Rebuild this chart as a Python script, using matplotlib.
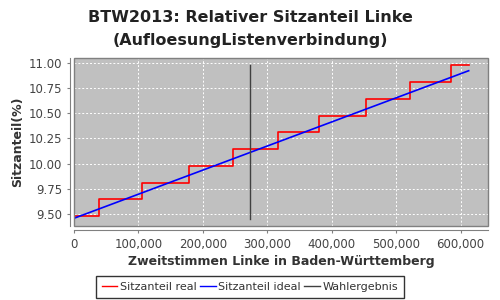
import matplotlib
matplotlib.use("Agg")
import matplotlib.pyplot as plt
from matplotlib.patches import Rectangle
from matplotlib.ticker import FuncFormatter

# Data
step_x = [0, 39260, 105040, 178900, 247200, 317000, 380600, 453500, 521300, 584900, 612400]
seat_levels = [9.474, 9.644, 9.803, 9.973, 10.142, 10.311, 10.471, 10.641, 10.810, 10.980]
ideal_x = [0, 612400]
ideal_y = [9.454, 10.926]
wahl_x = [273550, 273550]
wahl_y = [9.447, 10.983]
y_ticks = [9.50, 9.75, 10.00, 10.25, 10.50, 10.75, 11.00]
x_ticks = [0, 100000, 200000, 300000, 400000, 500000, 600000]

title = "BTW2013: Relativer Sitzanteil Linke\n(AufloesungListenverbindung)"
xlabel = "Zweitstimmen Linke in Baden-Württemberg"
ylabel = "Sitzanteil(%)"
labels = ["Sitzanteil real", "Sitzanteil ideal", "Wahlergebnis"]

plt.rcParams['font.family'] = ['DejaVu Sans']
fig = plt.figure(figsize=(5, 3), dpi=100)
ax = fig.add_axes([74/500, 1-226/300, (488-74)/500, (226-58)/300])
ax.set_facecolor('#c0c0c0')

ax.plot(step_x, seat_levels + [seat_levels[-1]], drawstyle='steps-post', color='red', lw=1.2, label=labels[0])
ax.plot(ideal_x, ideal_y, color='blue', lw=1.2, label=labels[1])
ax.plot(wahl_x, wahl_y, color='#404040', lw=1.0, label=labels[2])

ax.set_xlim(0, 642400)
ax.set_ylim(9.377, 11.053)
ax.set_xticks(x_ticks)
ax.set_yticks(y_ticks)
ax.xaxis.set_major_formatter(FuncFormatter(lambda v, p: f"{int(v):,}"))
ax.yaxis.set_major_formatter(FuncFormatter(lambda v, p: f"{v:.2f}"))
ax.grid(True, color='white', linestyle=(0, (2, 2)), lw=0.7)
ax.set_axisbelow(True)

for s in ['top', 'right']:
    ax.spines[s].set_visible(False)
for s in ['left', 'bottom']:
    ax.spines[s].set_position(('outward', 3))
    ax.spines[s].set_color('#808080')
ax.add_patch(Rectangle((0, 0), 1, 1, transform=ax.transAxes, fill=False,
                       edgecolor='#808080', lw=1, clip_on=False, zorder=5))
ax.tick_params(axis='both', colors='#808080', labelcolor='#444444', labelsize=8.5, length=2, width=0.8)

fig.text(0.5, 1-17/300, "BTW2013: Relativer Sitzanteil Linke", ha='center', va='center',
         fontsize=11.5, fontweight='bold', color='#222222')
fig.text(0.5, 1-40/300, "(AufloesungListenverbindung)", ha='center', va='center',
         fontsize=11.5, fontweight='bold', color='#222222')
ax.set_xlabel(xlabel, fontsize=9, fontweight='bold', color='#333333', labelpad=3)
ax.set_ylabel(ylabel, fontsize=9, fontweight='bold', color='#333333', labelpad=3)

leg = fig.legend(loc='center', bbox_to_anchor=(0.5, 1-287/300), ncol=3, fontsize=8,
                 frameon=True, fancybox=False, edgecolor='black', handlelength=1.4,
                 handletextpad=0.25, columnspacing=0.3, borderpad=0.55, borderaxespad=0)
leg.get_frame().set_linewidth(1.0)
for t in leg.get_texts():
    t.set_color('#333333')
for l in leg.get_lines():
    l.set_linewidth(1.0)

fig.savefig('out.png', dpi=100)
